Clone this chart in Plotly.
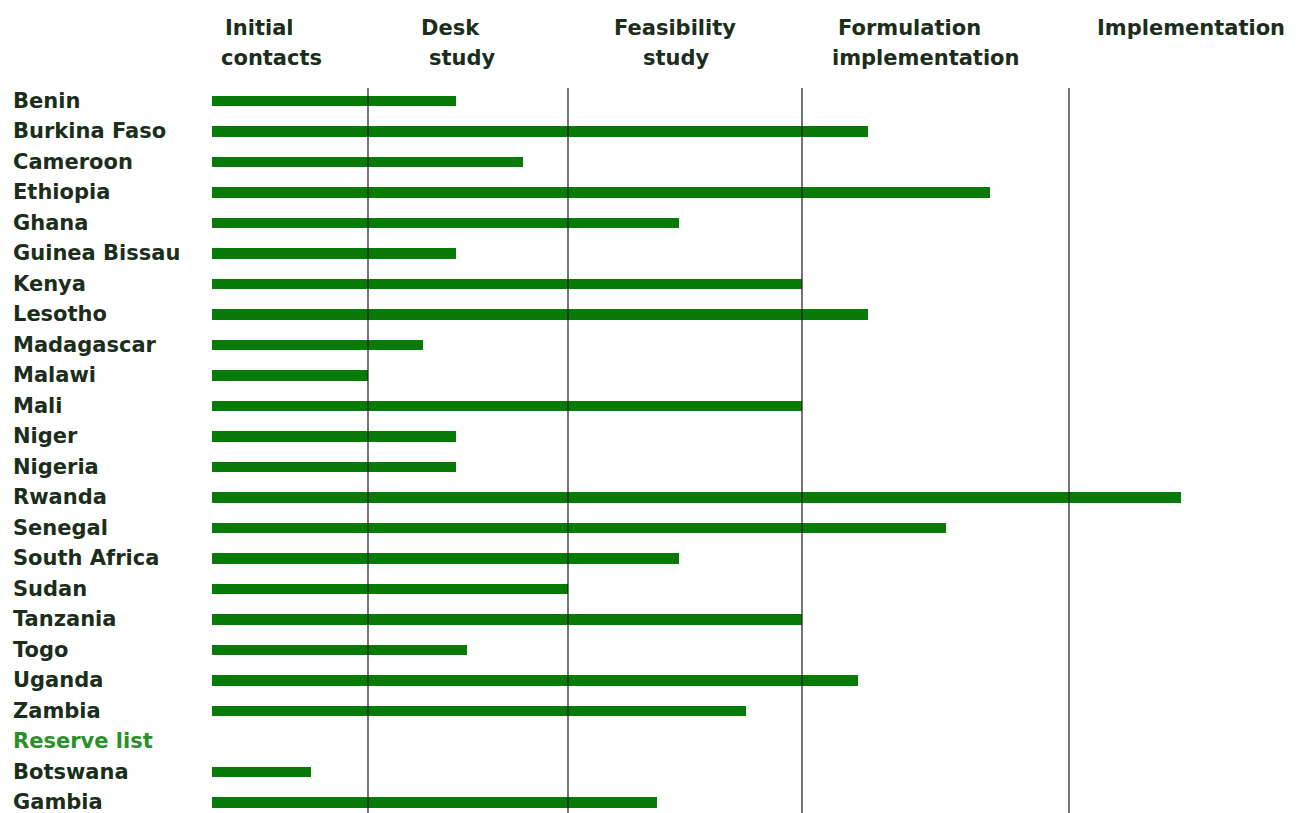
import plotly.graph_objects as go

countries = ["Benin", "Burkina Faso", "Cameroon", "Ethiopia", "Ghana", "Guinea Bissau",
             "Kenya", "Lesotho", "Madagascar", "Malawi", "Mali", "Niger", "Nigeria",
             "Rwanda", "Senegal", "South Africa", "Sudan", "Tanzania", "Togo", "Uganda",
             "Zambia", "Reserve list", "Botswana", "Gambia"]
# progress (arbitrary units along the stage axis); None = heading row
progress = [244, 656, 311, 778, 467, 244, 590, 656, 211, 156, 590, 244, 244,
            969, 734, 467, 356, 590, 255, 646, 534, None, 99, 445]
stage_names = [["Initial", "contacts"], ["Desk", "study"], ["Feasibility", "study"],
               ["Formulation", "implementation"], ["Implementation"]]
stage_bounds = [156, 356, 590, 857]          # vertical divider lines

# header line centres (layout)
header_x = [[47, 59], [238, 250], [463, 464], [697, 713], [979]]
header_y = [1 - 20 / 813, 1 - 50 / 813]

BAR = "#077a07"
TXT = "#1b2e1b"
RES = "#2a902a"
FONT = "DejaVu Sans"
FS = 21

rows = list(range(len(countries)))
fig = go.Figure()
fig.add_trace(go.Bar(
    x=progress, y=rows, orientation="h", width=0.34,
    marker=dict(color=BAR, line=dict(width=0)), hoverinfo="skip"))

for b in stage_bounds:
    fig.add_shape(type="line", xref="x", yref="paper", x0=b, x1=b, y0=0, y1=1 - 80 / 813,
                  line=dict(color="#1a1a1a", width=1.2), layer="above")

for lines, xs in zip(stage_names, header_x):
    for j, (txt, xpos) in enumerate(zip(lines, xs)):
        fig.add_annotation(x=xpos, y=header_y[j], xref="x", yref="paper", text="<b>" + txt + "</b>",
                           showarrow=False, xanchor="center", yanchor="middle",
                           font=dict(family=FONT, size=FS, color=TXT))

for i, c in enumerate(countries):
    col = RES if c == "Reserve list" else TXT
    fig.add_annotation(x=-0.184, y=i, xref="paper", yref="y", text="<b>" + c + "</b>",
                       showarrow=False, xanchor="left", yanchor="middle",
                       font=dict(family=FONT, size=FS, color=col))

fig.update_layout(
    width=1295, height=813,
    margin=dict(l=204, r=0, t=0, b=0),
    paper_bgcolor="white", plot_bgcolor="white",
    showlegend=False, bargap=0,
    xaxis=dict(range=[0, 1091], showgrid=False, zeroline=False, showticklabels=False,
               showline=False, fixedrange=True),
    yaxis=dict(range=[23.607, -3.049], showgrid=False, zeroline=False, showticklabels=False,
               showline=False, fixedrange=True),
)
fig.write_html("out.html")
